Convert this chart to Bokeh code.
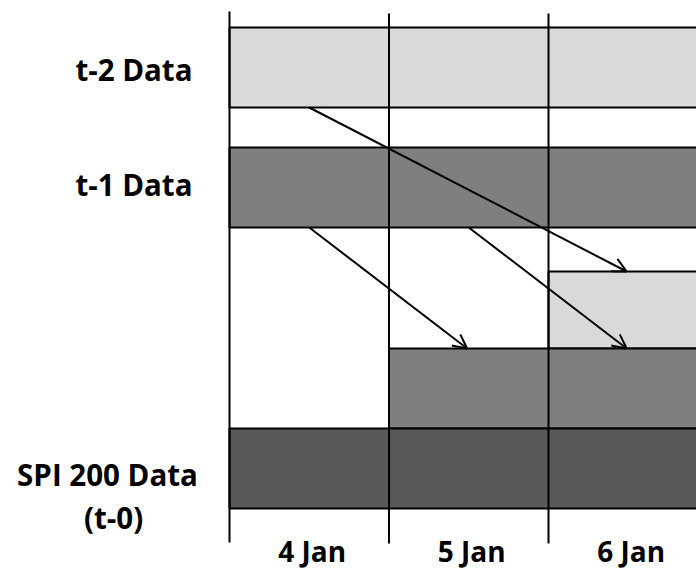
from bokeh.plotting import figure
from bokeh.models import Range1d, Arrow, OpenHead, ColumnDataSource
from bokeh.core.properties import value
from bokeh.embed import file_html
from bokeh.resources import INLINE

# ---- data -------------------------------------------------------------
days = ["4 Jan", "5 Jan", "6 Jan"]
day_index = [0, 1, 2]

# data rows (bars): which day they start on, vertical extent (diagram units, downwards)
bar_names = ["t-2 Data", "t-1 Data", "t-2 shifted", "t-1 shifted", "SPI 200 Data"]
bar_start_day = [0, 0, 2, 1, 0]
bar_end_day = [3, 3, 3, 3, 3]
bar_top = [27, 147, 271, 348, 428]
bar_bottom = [107, 227, 348, 428, 508]
bar_colors = ["#D9D9D9", "#7F7F7F", "#D9D9D9", "#7F7F7F", "#595959"]

# day separator lines
sep_top = [11, 13, 13]
sep_bottom = [542, 543, 543]

# arrows: (source row, source day) -> (target row, target day)
arrow_src_row = [0, 1, 1]
arrow_src_day = [0, 0, 1]
arrow_tgt_row = [2, 3, 3]
arrow_tgt_day = [2, 1, 2]

row_labels = ["t-2 Data", "t-1 Data"]
row_label_y = [69, 184]
spi_labels = ["SPI 200 Data", "(t-0)"]
spi_label_x = [-0.765, -0.727]
spi_label_y = [474, 517]
day_label_y = 550

# ---- figure -----------------------------------------------------------
p = figure(width=696, height=574, output_backend="svg", toolbar_location=None,
           x_range=Range1d(-229 / 159.5, 467 / 159.5), y_range=Range1d(574, 0),
           min_border=0)
p.axis.visible = False
p.grid.visible = False
p.outline_line_color = None
p.background_fill_color = "white"
p.border_fill_color = "white"

bars = ColumnDataSource(dict(left=bar_start_day, right=bar_end_day,
                             top=bar_top, bottom=bar_bottom, color=bar_colors))
p.quad(left="left", right="right", top="top", bottom="bottom", source=bars,
       fill_color="color", line_color="black", line_width=2)

p.segment(x0=day_index, x1=day_index, y0=sep_top, y1=sep_bottom,
          line_color="black", line_width=2)

for sr, sd, tr, td in zip(arrow_src_row, arrow_src_day, arrow_tgt_row, arrow_tgt_day):
    p.add_layout(Arrow(x_start=sd + 0.5, y_start=bar_bottom[sr],
                       x_end=td + 0.5 - 0.01, y_end=bar_top[tr],
                       line_color="black", line_width=2,
                       end=OpenHead(size=14, line_width=2, line_color="black")))

font = dict(text_font=value("Open Sans"), text_font_style="bold",
            text_color="black", text_baseline="alphabetic")

p.text(x=[-0.232] * len(row_labels), y=row_label_y, text=row_labels,
       text_align="right", text_font_size="29.5px", **font)
p.text(x=spi_label_x, y=spi_label_y, text=spi_labels, text_align="center",
       text_font_size="29.5px", **font)
p.text(x=[d + 0.5 for d in day_index], y=[day_label_y] * len(days), text=days,
       text_align="center", x_offset=3, text_font_size="28px", **font)

open("out.html", "w").write(file_html(p, INLINE))
